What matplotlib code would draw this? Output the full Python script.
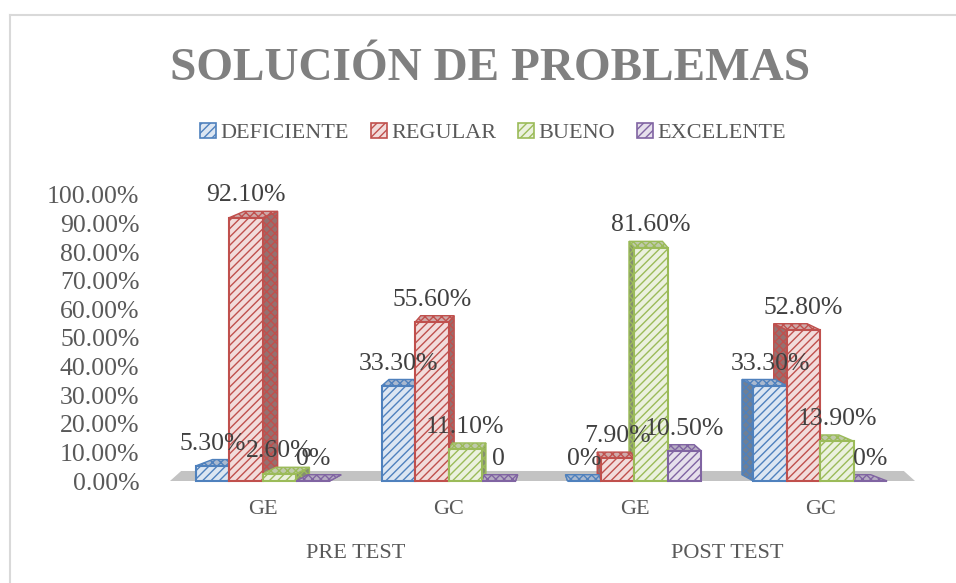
import matplotlib.pyplot as plt
from matplotlib.patches import Patch
from matplotlib.lines import Line2D
from matplotlib.ticker import PercentFormatter
import matplotlib.transforms as mtransforms

# ── Data ───────────────────────────────────────────────────────────────────────
CATEGORIES = ["GE", "GC", "GE", "GC"]
PHASES     = ["PRE TEST", "POST TEST"]
SERIES     = ["DEFICIENTE", "REGULAR", "BUENO", "EXCELENTE"]

DEFICIENTE = [0.053, 0.333, 0.000, 0.333]
REGULAR    = [0.921, 0.556, 0.079, 0.528]
BUENO      = [0.026, 0.111, 0.816, 0.139]
EXCELENTE  = [0.000, 0.000, 0.105, 0.000]
VALUES     = [DEFICIENTE, REGULAR, BUENO, EXCELENTE]

# the one zero label that Excel shows without the % sign
PLAIN_ZERO = {("EXCELENTE", 1)}

# ── Style ──────────────────────────────────────────────────────────────────────
EDGE  = {"DEFICIENTE": "#4f81bd", "REGULAR": "#c0504d", "BUENO": "#9bbb59", "EXCELENTE": "#8064a2"}
LIGHT = {"DEFICIENTE": "#dce6f2", "REGULAR": "#f2dcdb", "BUENO": "#ebf1de", "EXCELENTE": "#e6e0ec"}
TOP   = {"DEFICIENTE": "#aab9cf", "REGULAR": "#cfaaa9", "BUENO": "#bfc9ab", "EXCELENTE": "#b6adc2"}
SIDE  = {"DEFICIENTE": "#6f7f95", "REGULAR": "#957170", "BUENO": "#858f70", "EXCELENTE": "#7c7388"}
TEXT  = "#595959"

plt.rcParams["font.family"] = ["Liberation Serif", "DejaVu Serif"]
plt.rcParams["hatch.linewidth"] = 1.0

W    = 0.18    # bar width
DY   = 0.022   # depth of the fake 3D top
KX   = 0.05    # perspective shift of the back face
MID  = 1.5

fig = plt.figure(figsize=(9.56, 5.83), dpi=100)
ax = fig.add_axes([170 / 956, 102 / 583, 745 / 956, 286 / 583])

# floor
ax.fill([-0.5, 3.51, 3.45, -0.44], [0, 0, 0.035, 0.035], color="#c3c3c3",
        zorder=1, clip_on=False, lw=0)

for i in range(len(CATEGORIES)):
    order = range(len(SERIES)) if i < MID else reversed(range(len(SERIES)))
    # back faces (side + top)
    for j in order:
        name, h = SERIES[j], VALUES[j][i]
        xc = i + (j - 1.5) * W
        x0, x1 = xc - W / 2, xc + W / 2
        dx = -KX * (xc - MID)
        xs = x1 if dx > 0 else x0
        ax.fill([xs, xs, xs + dx, xs + dx], [0, h, h + DY, DY],
                facecolor=SIDE[name], edgecolor=EDGE[name], hatch="xxxx",
                lw=1.0, zorder=2, clip_on=False)
        ax.fill([x0, x1, x1 + dx, x0 + dx], [h, h, h + DY, h + DY],
                facecolor=TOP[name], edgecolor=EDGE[name], hatch="xxxx",
                lw=1.0, zorder=2, clip_on=False)
    # front faces
    for j, name in enumerate(SERIES):
        h = VALUES[j][i]
        xc = i + (j - 1.5) * W
        ax.bar(xc, h, width=W, color=LIGHT[name], edgecolor=EDGE[name],
               hatch="////", lw=1.5, zorder=3, clip_on=False)
        if h:
            txt = f"{h * 100:.2f}%"
        else:
            txt = "0" if (name, i) in PLAIN_ZERO else "0%"
        ax.annotate(txt, (xc, h), xytext=(0, 16), textcoords="offset points",
                    ha="center", va="center", fontsize=18.5, color="#404040",
                    zorder=10, annotation_clip=False)

# ── Axes ───────────────────────────────────────────────────────────────────────
ax.set_xlim(-0.5, 3.51)
ax.set_ylim(0, 1.0)
ax.set_yticks([k / 10 for k in range(11)])
ax.yaxis.set_major_formatter(PercentFormatter(xmax=1, decimals=2))
ax.set_xticks(range(len(CATEGORIES)))
ax.set_xticklabels(CATEGORIES)
ax.tick_params(axis="y", length=0, pad=22, labelsize=18.5, labelcolor=TEXT)
ax.tick_params(axis="x", length=0, pad=14, labelsize=16, labelcolor=TEXT)
for s in ax.spines.values():
    s.set_visible(False)

trans = mtransforms.blended_transform_factory(ax.transData, ax.transAxes)
for k, phase in enumerate(PHASES):
    ax.text(0.5 + 2 * k, -0.252, phase, transform=trans, ha="center", va="center",
            fontsize=16, color=TEXT)

# ── Title, legend, frame ───────────────────────────────────────────────────────
fig.text(490 / 956, 1 - 69 / 583, "SOLUCIÓN DE PROBLEMAS", ha="center", va="center",
         fontsize=34, fontweight="bold", color="#808080")

handles = [Patch(facecolor=LIGHT[s], edgecolor=EDGE[s], hatch="////", lw=1.2) for s in SERIES]
leg = fig.legend(handles, SERIES, loc="center", bbox_to_anchor=(493 / 956, 1 - 133 / 583),
                 ncol=4, frameon=False, fontsize=16, handlelength=0.7, handleheight=0.7,
                 handletextpad=0.2, columnspacing=1.0)
for t in leg.get_texts():
    t.set_color(TEXT)

fig.add_artist(Line2D([10 / 956, 10 / 956], [0, 1 - 15 / 583], transform=fig.transFigure,
                      color="#d9d9d9", lw=1.5))
fig.add_artist(Line2D([10 / 956, 1], [1 - 15 / 583, 1 - 15 / 583], transform=fig.transFigure,
                      color="#d9d9d9", lw=1.5))

plt.savefig("out.png", dpi=100)
plt.close()
